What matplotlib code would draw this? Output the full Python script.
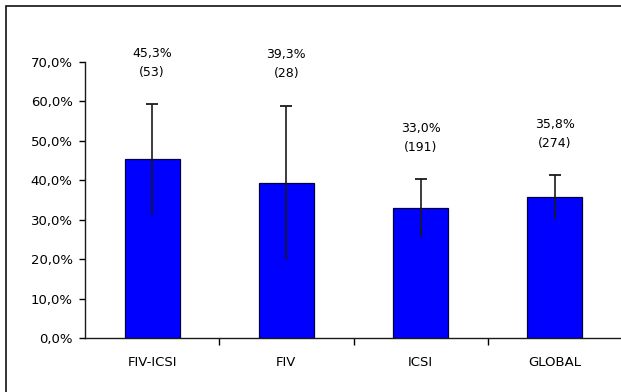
import numpy as np
import matplotlib
matplotlib.use("Agg")
import matplotlib.pyplot as plt
from matplotlib.patches import Rectangle

# data
groups = ["FIV-ICSI", "FIV", "ICSI", "GLOBAL"]
rates = [45.3, 39.3, 33.0, 35.8]
counts = [53, 28, 191, 274]
errors = [14.0, 19.6, 7.3, 5.5]
yticks = [0, 10, 20, 30, 40, 50, 60, 70]


def pct(v):
    return "{:.1f}%".format(v).replace(".", ",")


def main():
    plt.rcParams['font.family'] = ['DejaVu Sans']
    fig = plt.figure(figsize=(6.21, 3.92), dpi=100)
    fig.patch.set_facecolor('white')

    # outer frame (left + top visible, the rest is cropped)
    fig.patches.append(Rectangle((6 / 621, -0.1), 1.1, 1.1 - 6.5 / 392,
                                 transform=fig.transFigure, fill=False,
                                 edgecolor='#111111', linewidth=1.2))

    ax = fig.add_axes([85 / 621, 54 / 392, 537 / 621, 276 / 392])
    x = np.arange(len(groups))
    tops = np.array(rates) + np.array(errors)

    ax.bar(x, rates, width=0.41, color='#0000ff', edgecolor='#000040',
           linewidth=0.9, zorder=2)
    # whisker through the bar, cap only on top
    ax.errorbar(x, rates, yerr=errors, fmt='none',
                ecolor='#1a1a1a', elinewidth=1.2, capsize=0, zorder=3)
    ax.plot(x, tops, linestyle='none', marker='_', markersize=9,
            markeredgewidth=1.3, color='#1a1a1a', zorder=3)

    for xi, r, n, t in zip(x, rates, counts, tops):
        ax.text(xi, t + 10.5, "{}\n({})".format(pct(r), n),
                ha='center', va='center', fontsize=9, linespacing=1.6,
                color='black')

    ax.set_xlim(-0.5, len(groups) - 0.5)
    ax.set_ylim(0, 70)
    ax.set_yticks(yticks)
    ax.set_yticklabels([pct(v) for v in yticks], fontsize=9.5, color='black')

    ax.set_xticks(x)
    ax.set_xticklabels(groups, fontsize=9.5, color='black')
    ax.tick_params(axis='x', which='major', length=0, pad=13)
    ax.set_xticks(np.arange(0.5, len(groups) - 0.5, 1), minor=True)
    ax.tick_params(axis='x', which='minor', length=5, width=1, direction='out')
    ax.tick_params(axis='y', length=4, width=1, direction='out', pad=5)

    for side in ['top', 'right']:
        ax.spines[side].set_visible(False)
    for side in ['left', 'bottom']:
        ax.spines[side].set_linewidth(1.0)
        ax.spines[side].set_color('#1a1a1a')

    plt.savefig('out.png', dpi=100, facecolor='white')


if __name__ == "__main__":
    main()
